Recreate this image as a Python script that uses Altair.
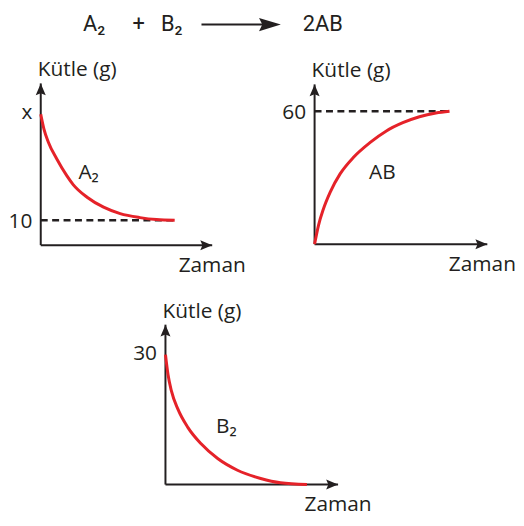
import altair as alt
import pandas as pd

FONT = "Open Sans"
HEAD_FONT = "Roboto"
INK = "#231f20"
RED = "#e52229"
FS = 21

# ---------------- data ----------------
# time is in arbitrary units (0..10 = end of the reaction); mass in the drawn scale
A2_t = [0, 0.24, 0.57, 1.19, 1.93, 2.42, 3.46, 4.69, 5.93, 7.41, 8.64, 10]
A2_m = [52.8, 46.8, 41.5, 34.8, 28.1, 24.4, 19.3, 15.3, 12.7, 11.1, 10.3, 10]

AB_t = [0, 0.29, 0.66, 1.15, 1.89, 2.87, 4.1, 5.32, 6.54, 7.77, 8.99, 10]
AB_m = [0, 8.5, 16, 23.4, 31.7, 39.1, 45.8, 51.1, 54.8, 57.5, 59.2, 60]

B2_t = [0, 0.18, 0.42, 0.88, 1.58, 2.52, 3.69, 5.09, 6.73, 8.13, 10]
B2_m = [30, 25.4, 21.6, 17.4, 13.2, 9.4, 6.0, 3.3, 1.4, 0.4, 0]

A2_START = ("x", 52.8)
A2_END = ("10", 10)
AB_END = ("60", 60)
B2_START = ("30", 30)

Y_TITLE = "Kütle (g)"
X_TITLE = "Zaman"
NB = "\u00a0"
EQ_REACTANTS = "A₂" + NB * 5 + "+" + NB * 3 + "B₂"
EQ_PRODUCT = "2AB"

UP = "M0,0 L-0.42,1 L0,0.82 L0.42,1 Z"
RIGHT = "M0,0 L-1,-0.42 L-0.82,0 L-1,0.42 Z"
BIG_RIGHT = "M0,0 L-1,-0.3 L-0.85,0 L-1,0.3 Z"

HEADER_H = 28.0
HEAD_BASE = 20.7
R1_TOP = 8.0 + HEADER_H   # page y where the first row starts
R1_BOT = 282.0
R2_BOT = 514.0
LIFT = 8.0      # second row drawn a little higher so the page does not overflow


def dom_x(left_px, right_px, origin_px, ppu):
    return [(left_px - origin_px) / ppu, (right_px - origin_px) / ppu]


def dom_y(top_px, bottom_px, origin_px, ppu):
    return [(origin_px - bottom_px) / ppu, (origin_px - top_px) / ppu]


# ---------------- header: the reaction equation ----------------
def htext(s, x, size=22, align="left", y=HEAD_BASE):
    return alt.Chart(pd.DataFrame({"s": [s]})).mark_text(
        font=HEAD_FONT, fontSize=size, color=INK, align=align, baseline="alphabetic"
    ).encode(x=alt.value(x), y=alt.value(y), text="s:N")


header = alt.layer(
    htext(EQ_REACTANTS, 74.7),
    alt.Chart(pd.DataFrame({"a": [0]})).mark_rule(color=INK, strokeWidth=2).encode(
        x=alt.value(194), x2=alt.value(262), y=alt.value(HEAD_BASE - 6)),
    alt.Chart(pd.DataFrame({"a": [0]})).mark_point(
        shape=BIG_RIGHT, size=1936, filled=True, color=INK, opacity=1, strokeWidth=0
    ).encode(x=alt.value(274), y=alt.value(HEAD_BASE - 6)),
    htext(EQ_PRODUCT, 296),
).properties(width=508, height=HEADER_H)


def panel(curve_t, curve_m, name, name_at, ticks, dash_m, axis_t, axis_m,
          xdom, ydom, width, height, zaman_dx=0):
    xs = alt.Scale(domain=xdom, nice=False, zero=False)
    ys = alt.Scale(domain=ydom, nice=False, zero=False)

    def X():
        return alt.X("t:Q", scale=xs, axis=None)

    def Y():
        return alt.Y("m:Q", scale=ys, axis=None)

    def txt(t, m, s, size=FS, **kw):
        return alt.Chart(pd.DataFrame({"t": [t], "m": [m], "s": [s]})).mark_text(
            font=FONT, fontSize=size, color=INK, baseline="alphabetic", **kw
        ).encode(x=X(), y=Y(), text="s:N")

    layers = []
    axes_df = pd.DataFrame({"t": [0, 0], "m": [0, 0],
                            "t2": [0, axis_t], "m2": [axis_m, 0]})
    layers.append(alt.Chart(axes_df).mark_rule(color=INK, strokeWidth=2).encode(
        x=X(), y=Y(), x2="t2:Q", y2="m2:Q"))
    layers.append(alt.Chart(pd.DataFrame({"t": [0], "m": [axis_m]})).mark_point(
        shape=UP, size=576, filled=True, color=INK, opacity=1, strokeWidth=0
    ).encode(x=X(), y=Y()))
    layers.append(alt.Chart(pd.DataFrame({"t": [axis_t], "m": [0]})).mark_point(
        shape=RIGHT, size=576, filled=True, color=INK, opacity=1, strokeWidth=0
    ).encode(x=X(), y=Y()))
    if dash_m is not None:
        layers.append(alt.Chart(pd.DataFrame({"t": [0], "t2": [curve_t[-1]], "m": [dash_m]}))
                      .mark_rule(color=INK, strokeWidth=2.5, strokeDash=[7, 4.5])
                      .encode(x=X(), x2="t2:Q", y=Y()))
    layers.append(alt.Chart(pd.DataFrame({"t": curve_t, "m": curve_m})).mark_line(
        color=RED, strokeWidth=3, interpolate="monotone").encode(x=X(), y=Y()))
    for (label, value, dy) in ticks:
        layers.append(txt(0, value, label, align="right", dx=-8.5, dy=dy))
    layers.append(txt(0, axis_m, Y_TITLE, align="left", dx=-3, dy=-7))
    layers.append(txt(axis_t, 0, X_TITLE, align="center", dx=zaman_dx, dy=27))
    layers.append(txt(name_at[0], name_at[1], name, align="left"))
    return alt.layer(*layers).properties(width=width, height=height)


p1 = panel(A2_t, A2_m, "A₂", (2.81, 26.8),
           [(A2_START[0], A2_START[1], 5), (A2_END[0], A2_END[1], 8)],
           A2_END[1], 12.8, 65.2,
           dom_x(8, 262, 40, 13.5), dom_y(R1_TOP, R1_BOT, 245, 2.5),
           254, R1_BOT - R1_TOP)

p2 = panel(AB_t, AB_m, "AB", (4.04, 29.4),
           [(AB_END[0], AB_END[1], 8)],
           AB_END[1], 12.8, 72.1,
           dom_x(262, 516, 316, 13.6), dom_y(R1_TOP, R1_BOT, 244, 2.233),
           254, R1_BOT - R1_TOP, zaman_dx=-5)

p3 = panel(B2_t, B2_m, "B₂", (3.58, 11.8),
           [(B2_START[0], B2_START[1], 5)],
           None, 12.2, 36.9,
           dom_x(8, 516, 165.7, 14.26), dom_y(R1_BOT, R2_BOT, 494.3 - LIFT, 4.367),
           508, R2_BOT - R1_BOT)

chart = alt.vconcat(
    header,
    alt.hconcat(p1, p2, spacing=0),
    p3,
    spacing=0,
).properties(padding=0).configure_view(stroke=None)

chart.save("out.html", embed_options={"renderer": "svg", "actions": False})
